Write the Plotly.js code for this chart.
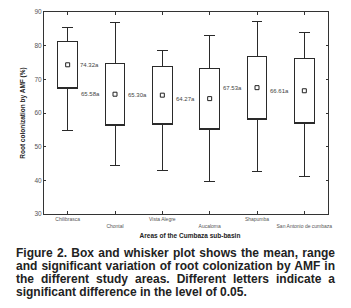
<!DOCTYPE html>
<html>
<head>
<meta charset="utf-8">
<script src="https://cdn.plot.ly/plotly-3.0.1.min.js"></script>
<style>
  html, body { margin: 0; padding: 0; background: #fff; }
  #wrap { position: relative; width: 351px; height: 308px; overflow: hidden; }
  #chart { position: absolute; left: 0; top: 0; width: 351px; height: 308px; }
  #xtitle { position: absolute; left: 90px; top: 232px; width: 200px; text-align: center;
    font-family: "Liberation Sans", Arial, sans-serif; font-weight: bold;
    font-size: 6.5px; line-height: 8px; color: #222; white-space: nowrap; }
  #caption { position: absolute; left: 16px; top: 247px; width: 319px;
    font-family: "Liberation Sans", Arial, sans-serif; font-weight: bold;
    font-size: 12px; line-height: 12.9px; color: #222; }
  #caption div { white-space: nowrap; text-align: justify; text-align-last: justify; }
  #caption div.last { text-align-last: left; }
</style>
</head>
<body>
<div id="wrap">
  <div id="chart"></div>
  <div id="xtitle">Areas of the Cumbaza sub-basin</div>
  <div id="caption">
    <div>Figure 2. Box and whisker plot shows the mean, range</div>
    <div>and significant variation of root colonization by AMF in</div>
    <div>the different study areas. Different letters indicate a</div>
    <div class="last">significant difference in the level of 0.05.</div>
  </div>
</div>
<script>
const categories = ["Chilibrasca", "Chontal", "Vista Alegre", "Aucaloma", "Shapumba", "San Antonio de cumbaza"];
const tickLabels = ["Chilibrasca", "<br>Chontal", "Vista Alegre", "<br>Aucaloma", "Shapumba", "<br>San Antonio de cumbaza"];
const whiskerLow  = [54.8, 44.5, 43.0, 39.8, 42.7, 41.0];
const boxLow      = [67.2, 56.4, 56.5, 55.1, 58.0, 56.9];
const boxHigh     = [81.2, 74.8, 73.9, 73.3, 76.7, 76.3];
const whiskerHigh = [85.3, 86.9, 78.5, 82.9, 87.3, 83.8];
const means       = [74.32, 65.58, 65.30, 64.27, 67.53, 66.61];
const letters     = ["a", "a", "a", "a", "a", "a"];
const labelSide   = ["right", "left", "left", "left", "left", "left"];

const FONT = "Liberation Sans, Arial, sans-serif";

const boxTrace = {
  type: "box",
  x: categories,
  q1: boxLow,
  median: boxLow,
  q3: boxHigh,
  lowerfence: whiskerLow,
  upperfence: whiskerHigh,
  width: 0.41,
  whiskerwidth: 0.55,
  fillcolor: "rgba(255,255,255,1)",
  line: { color: "#2a2a2a", width: 1 },
  boxpoints: false,
  hoverinfo: "skip",
  showlegend: false
};

const meanTrace = {
  type: "scatter",
  mode: "markers",
  x: categories,
  y: means,
  marker: { symbol: "square-open", size: 4, color: "#222", line: { width: 1, color: "#222" } },
  hoverinfo: "skip",
  showlegend: false
};

const annotations = categories.map((c, i) => ({
  x: c, y: means[i], xref: "x", yref: "y",
  text: means[i].toFixed(2) + letters[i],
  showarrow: false,
  xanchor: labelSide[i] === "right" ? "left" : "right",
  yanchor: "middle",
  xshift: labelSide[i] === "right" ? 10 : -13,
  font: { family: FONT, size: 6, color: "#444" }
}));

const layout = {
  width: 351, height: 308,
  margin: { l: 44, r: 23, t: 12, b: 94 },
  paper_bgcolor: "rgba(0,0,0,0)", plot_bgcolor: "#fff",
  font: { family: FONT, color: "#444" },
  showlegend: false,
  xaxis: {
    type: "category",
    categoryorder: "array",
    categoryarray: categories,
    tickvals: categories,
    ticktext: tickLabels,
    range: [-0.5, 5.5],
    showline: true, linecolor: "#333", linewidth: 1, mirror: "ticks",
    ticks: "inside", ticklen: 3, tickcolor: "#333",
    showgrid: false, zeroline: false,
    tickfont: { family: FONT, size: 5, color: "#555" }
  },
  yaxis: {
    range: [30, 90],
    tickvals: [30, 40, 50, 60, 70, 80, 90],
    showline: true, linecolor: "#333", linewidth: 1, mirror: "ticks",
    ticks: "inside", ticklen: 2, tickcolor: "#333",
    showgrid: false, zeroline: false,
    tickfont: { family: FONT, size: 6.5, color: "#555" },
    title: { text: "<b>Root colonization by AMF (%)</b>", font: { family: FONT, size: 6.5, color: "#222" }, standoff: 8 }
  },
  annotations: annotations
};

Plotly.newPlot("chart", [boxTrace, meanTrace], layout, { staticPlot: true, displayModeBar: false }).then(function () {
  document.querySelectorAll("#chart .boxlayer path").forEach(function (p) {
    p.style.shapeRendering = "crispEdges";
  });
});
</script>
</body>
</html>
